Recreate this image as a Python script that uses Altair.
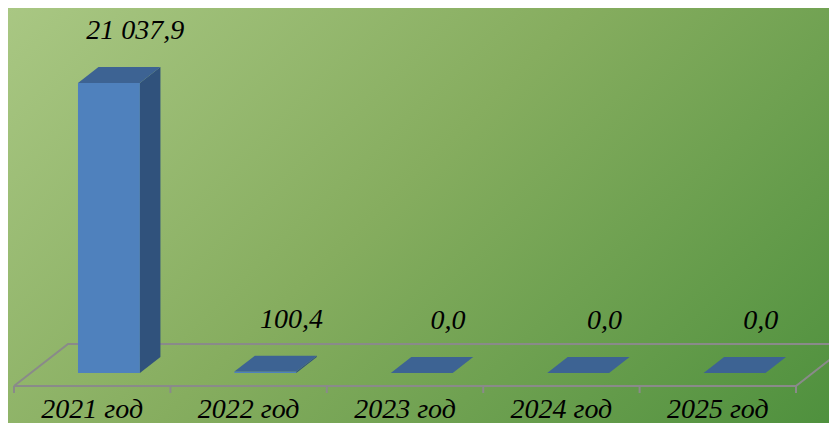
import altair as alt
import pandas as pd

# ---- data ----
categories = ["2021 год", "2022 год", "2023 год", "2024 год", "2025 год"]
values = [21037.9, 100.4, 0.0, 0.0, 0.0]
value_labels = ["21 037,9", "100,4", "0,0", "0,0", "0,0"]

# ---- 3D style constants (pixels of the picture) ----
W, H = 821, 415
CAT_W = 156.4          # px per category on the floor front edge
X0 = 14                # floor front-left corner (page px)
FLOOR_Y = 386          # floor front edge (page px)
DEPTH_DX, DEPTH_DY = 54, 42   # oblique offset for full floor depth
BAR_PX = 290           # height of tallest bar in px
BAR_U = (0.302, 0.698) # bar extent inside category
BAR_Z = (0.31, 0.69)   # bar extent in depth
PAGE_OFF = 8

vmax = max(values)
k = vmax / BAR_PX      # value units per px


def proj(u, h, z):
    return u + z * DEPTH_DX / CAT_W, h + z * DEPTH_DY * k


xscale = alt.Scale(domain=[(PAGE_OFF - X0) / CAT_W, (PAGE_OFF + W - X0) / CAT_W], nice=False, zero=False)
yscale = alt.Scale(domain=[(FLOOR_Y - PAGE_OFF - H) * k, (FLOOR_Y - PAGE_OFF) * k], nice=False, zero=False)

n = len(categories)

# floor outline
floor_pts = [(0, 0), (n, 0), (n, 1), (0, 1), (0, 0)]
floor_df = pd.DataFrame([
    {"o": i, "x": proj(u, 0, z)[0], "y": proj(u, 0, z)[1]} for i, (u, z) in enumerate(floor_pts)
])
ticks_df = pd.DataFrame([
    {"x": proj(u, 0, 0)[0], "y": proj(u, 0, 0)[1], "y2": proj(u, 0, 0)[1] - 7 * k} for u in range(n + 1)
])

front_rows, top_rows, side_rows, vl_rows, cl_rows = [], [], [], [], []
for i, (c, v, lab) in enumerate(zip(categories, values, value_labels)):
    z1, z2 = BAR_Z
    u0, u1 = i + BAR_U[0], i + BAR_U[1]
    front_rows.append({"cat": c, "x": proj(u0, 0, z1)[0], "x2": proj(u1, 0, z1)[0],
                       "y": proj(u0, 0, z1)[1], "y2": proj(u0, v, z1)[1]})
    for z in (z1, z2):
        top_rows.append({"cat": c, "y": proj(u0, v, z)[1], "x": proj(u0, v, z)[0], "x2": proj(u1, v, z)[0]})
        side_rows.append({"cat": c, "x": proj(u1, v, z)[0], "y": proj(u1, v, z)[1], "y2": proj(u1, 0, z)[1]})
    px, py = proj(i + 0.5, v, 0.5)
    vl_rows.append({"label": lab, "x": px, "y": py})
    cx, cy = proj(i + 0.5, 0, 0)
    cl_rows.append({"label": c, "x": cx, "y": cy})

front_df = pd.DataFrame(front_rows)
top_df = pd.DataFrame(top_rows)
side_df = pd.DataFrame(side_rows)
vl_df = pd.DataFrame(vl_rows)
cl_df = pd.DataFrame(cl_rows)

X = lambda f: alt.X(f"{f}:Q", scale=xscale, axis=None)
Y = lambda f: alt.Y(f"{f}:Q", scale=yscale, axis=None)

bg = alt.Chart(pd.DataFrame({"a": [0]})).mark_rect(
    color=alt.LinearGradient(
        gradient="linear",
        stops=[alt.GradientStop(color="#a9c783", offset=0),
               alt.GradientStop(color="#86ad5f", offset=0.45),
               alt.GradientStop(color="#4c8f3c", offset=1)],
        x1=0, y1=0, x2=1.23, y2=0.64,
    )
).encode(x=alt.value(0), x2=alt.value(W), y=alt.value(0), y2=alt.value(H))

floor = alt.Chart(floor_df).mark_line(color="#8a8a8a", strokeWidth=2, clip=True).encode(
    x=X("x"), y=Y("y"), order="o:Q")
ticks = alt.Chart(ticks_df).mark_rule(color="#8a8a8a", strokeWidth=2).encode(
    x=X("x"), y=Y("y"), y2="y2:Q")

front = alt.Chart(front_df).mark_rect(color="#4f81bd").encode(
    x=X("x"), x2="x2:Q", y=Y("y"), y2="y2:Q")
side = alt.Chart(side_df).mark_area(color="#30527c").encode(
    x=X("x"), y=Y("y"), y2="y2:Q", detail="cat:N")
top = alt.Chart(top_df).mark_area(color="#3d6393", orient="horizontal").encode(
    y=Y("y"), x=X("x"), x2="x2:Q", detail="cat:N")

font = dict(font="Liberation Serif", fontStyle="italic", fontSize=28, color="black")
vlabels = alt.Chart(vl_df).mark_text(dx=16, dy=-36, align="center", baseline="alphabetic", **font).encode(
    x=X("x"), y=Y("y"), text="label:N")
clabels = alt.Chart(cl_df).mark_text(dy=32, align="center", baseline="alphabetic", **font).encode(
    x=X("x"), y=Y("y"), text="label:N")

chart = alt.layer(bg, floor, ticks, front, side, top, vlabels, clabels).properties(
    width=W, height=H, padding=0, autosize="none"
).configure_view(strokeWidth=0)

chart.save("out.html", embed_options={"renderer": "svg", "actions": False})
